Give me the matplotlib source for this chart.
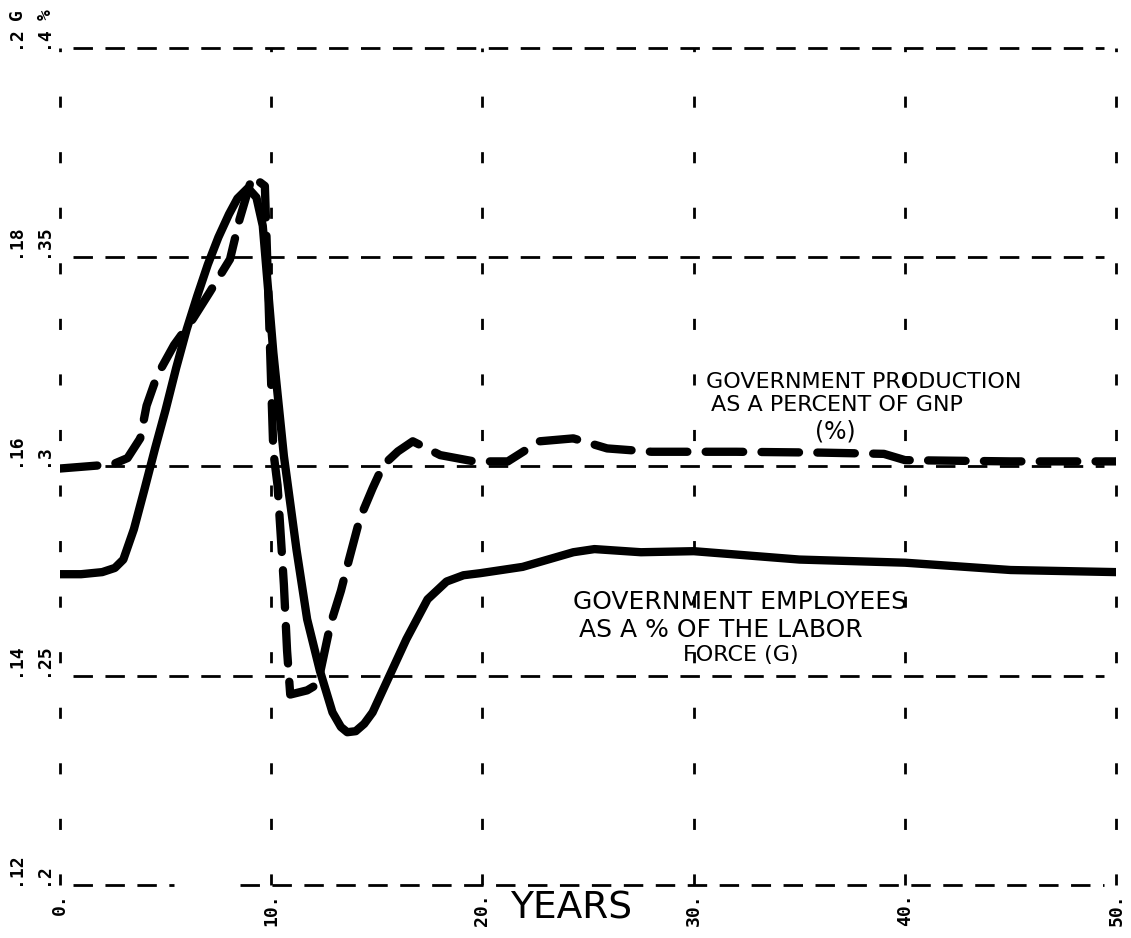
import numpy as np
import matplotlib
matplotlib.use("Agg")
import matplotlib.pyplot as plt

# government employees as a fraction of the labor force (G), left scale .12-.2
years_g = [0, 1, 2, 2.6, 3, 3.5, 4, 4.5, 5, 5.5, 6, 6.5, 7, 7.5, 8, 8.4, 8.9, 9.3, 9.6,
           10.1, 10.6, 11.2, 11.7, 12.3, 12.9, 13.3, 13.6, 14.0, 14.4, 14.8, 15.6, 16.4,
           17.4, 18.3, 19.1, 19.9, 21.9, 24.3, 25.3, 27.5, 30, 32.5, 35, 40, 45, 50]
emp_g = [0.1497, 0.1497, 0.1499, 0.1503, 0.1511, 0.1540, 0.1578, 0.1617, 0.1654, 0.1694,
         0.1731, 0.1763, 0.1793, 0.1819, 0.1841, 0.1856, 0.1866, 0.1857, 0.1830,
         0.1709, 0.1610, 0.1520, 0.1454, 0.1405, 0.1365, 0.1351, 0.1346, 0.1347, 0.1354,
         0.1365, 0.1400, 0.1435, 0.1473, 0.1490, 0.1496, 0.1498, 0.1504, 0.1518, 0.1521,
         0.1518, 0.1519, 0.1515, 0.1511, 0.1508, 0.1501, 0.1499]

# government production as a percent of GNP, second scale .2-.4
years_p = [0, 2.5, 3.2, 3.8, 4.1, 4.6, 5.4, 6.3, 7.1, 8.05, 8.5, 9.1, 9.7, 9.95, 10.1, 10.3,
           10.6, 10.75, 10.9, 11.7, 12.2, 12.8, 13.3, 13.7, 14.2, 14.8, 15.3, 16.0, 16.7,
           18.0, 19.6, 21.2, 22.7, 24.3, 25.9, 28, 32, 36, 39, 40, 45, 50]
prod_p = [0.2995, 0.3005, 0.302, 0.3067, 0.3145, 0.3217, 0.3290, 0.3353, 0.3417, 0.3495,
          0.359, 0.3693, 0.367, 0.3274, 0.3036, 0.2955, 0.2717, 0.256, 0.2455, 0.2465,
          0.248, 0.2622, 0.2703, 0.2781, 0.2876, 0.2948, 0.3003, 0.3036, 0.306, 0.3027,
          0.3012, 0.3012, 0.306, 0.3067, 0.3043, 0.3035, 0.3035, 0.3033, 0.303, 0.3015,
          0.3012, 0.3012]

x_ticks = [0, 10, 20, 30, 40, 50]
x_labels = ["0.", "10.", "20.", "30.", "40.", "50."]
g_ticks = [0.12, 0.14, 0.16, 0.18, 0.20]
g_labels = [".12", ".14", ".16", ".18", ".2"]
p_ticks = [0.2, 0.25, 0.3, 0.35, 0.4]
p_labels = [".2", ".25", ".3", ".35", ".4"]

fig = plt.figure(figsize=(11.31, 9.38), dpi=100)
ax = fig.add_axes([0.053, 0.0565, 0.934, 0.8925])
ax2 = ax.twinx()

ax.set_xlim(0, 50)
ax.set_ylim(0.12, 0.20)
ax2.set_ylim(0.2, 0.4)

# dashed grid
for xv in x_ticks:
    ax.plot([xv, xv], [0.12, 0.20], color="black", lw=2, dashes=(4, 16), zorder=1, clip_on=False)
for yv in g_ticks[1:]:
    ax.plot([0.6, 49.4], [yv, yv], color="black", lw=2, dashes=(7, 4.5), zorder=1, clip_on=False)
# bottom line has a gap in the original print
ax.plot([0.6, 5.4], [0.12, 0.12], color="black", lw=2, dashes=(7, 4.5), zorder=1, clip_on=False)
ax.plot([8.5, 49.4], [0.12, 0.12], color="black", lw=2, dashes=(7, 4.5), zorder=1, clip_on=False)

ax.plot(years_g, emp_g, color="black", lw=6, solid_capstyle="round",
        solid_joinstyle="round", zorder=3)
ax2.plot(years_p, prod_p, color="black", lw=6, dashes=(4.5, 2.2),
         dash_capstyle="round", dash_joinstyle="round", zorder=3)

for s in list(ax.spines.values()) + list(ax2.spines.values()):
    s.set_visible(False)

mono = "DejaVu Sans Mono"
ax.set_xticks(x_ticks)
ax.set_xticklabels(x_labels, rotation=90, fontsize=13, fontweight="bold", family=mono)
ax.tick_params(axis="x", length=0, pad=6)

ax.set_yticks(g_ticks)
ax.set_yticklabels(g_labels, rotation=90, fontsize=13, fontweight="bold", va="bottom",
                   family=mono)
ax.tick_params(axis="y", length=0, pad=26)

ax2.yaxis.tick_left()
ax2.set_yticks(p_ticks)
ax2.set_yticklabels(p_labels, rotation=90, fontsize=13, fontweight="bold", va="bottom",
                    family=mono)
ax2.tick_params(axis="y", length=0, pad=6)

fig.text(17 / 1131, 1 - 15 / 938, "G", rotation=90, fontsize=13, fontweight="bold",
         ha="center", va="center", family=mono)
fig.text(46 / 1131, 1 - 15 / 938, "%", rotation=90, fontsize=13, fontweight="bold",
         ha="center", va="center", family=mono)

ax.text(21.3, 0.1178, "YEARS", fontsize=27, ha="left", va="center", clip_on=False)
ax.text(30.57, 0.1681, "GOVERNMENT PRODUCTION", fontsize=16, ha="left", va="center")
ax.text(30.8, 0.1659, "AS A PERCENT OF GNP", fontsize=16, ha="left", va="center")
ax.text(36.7, 0.1633, "(%)", fontsize=17, ha="center", va="center")
ax.text(24.27, 0.1470, "GOVERNMENT EMPLOYEES", fontsize=18, ha="left", va="center")
ax.text(24.55, 0.1444, "AS A % OF THE LABOR", fontsize=18, ha="left", va="center")
ax.text(29.5, 0.1420, "FORCE (G)", fontsize=16, ha="left", va="center")

fig.savefig("out.png", dpi=100, facecolor="white")
